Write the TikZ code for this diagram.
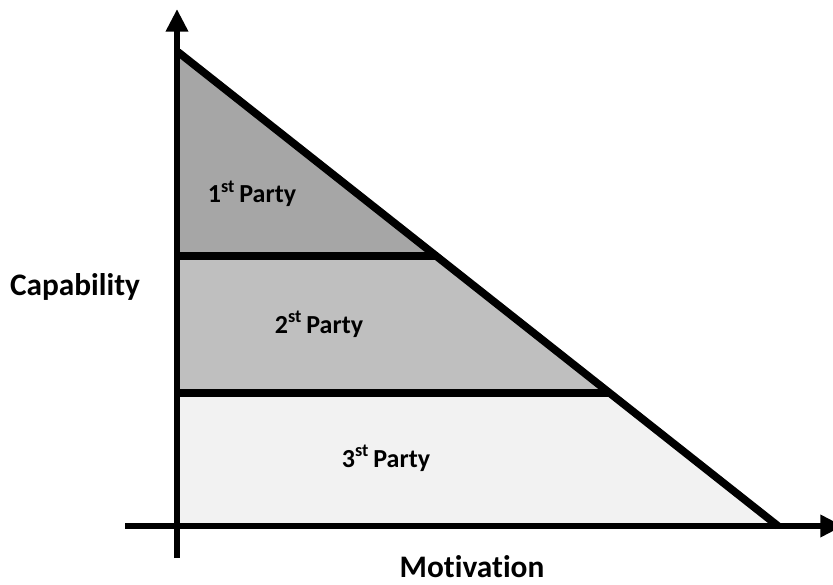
\documentclass[tikz,border=0pt]{standalone}
\usepackage{fontspec}
\setmainfont{Carlito}[Ligatures={NoCommon}]
\definecolor{firstgray}{RGB}{166, 166, 166}
\definecolor{secondgray}{RGB}{191, 191, 191}
\definecolor{thirdgray}{RGB}{242, 242, 242}
\usetikzlibrary{arrows.meta, calc}

\begin{document}
\begin{tikzpicture}[x=0.75pt, y=-0.75pt,
    axisline/.style={line width=5.2pt, -{Triangle[length=17pt, width=16pt]}},
    bandedge/.style={line width=5.8pt},
    partylbl/.style={font=\bfseries\fontsize{19.5}{22}\selectfont, anchor=base},
    axislbl/.style={font=\bfseries\fontsize{23.5}{26}\selectfont, anchor=base, inner sep=0pt}]
    \useasboundingbox (0,0) rectangle (833,585);
    % corners of the bands
    \coordinate (apex) at (178,52);
    \coordinate (foot) at (778,526);
    \coordinate (a1) at (178,256);
    \coordinate (b1) at (438,256);
    \coordinate (a2) at (178,393);
    \coordinate (b2) at (610,393);
    \coordinate (a3) at (178,526);
    % bands
    \fill[firstgray] (apex) -- (b1) -- (a1) -- cycle;
    \fill[secondgray] (a1) -- (b1) -- (b2) -- (a2) -- cycle;
    \fill[thirdgray] (a2) -- (b2) -- (foot) -- (a3) -- cycle;
    \draw[bandedge] (a1) -- (b1);
    \draw[bandedge] (a2) -- (b2);
    \draw[bandedge] (apex) -- (foot);
    % axes
    \coordinate (ybot) at (177,558);
    \coordinate (ytop) at (177,9);
    \coordinate (xleft) at (125,526);
    \coordinate (xright) at (843,526);
    \draw[axisline] (ybot) -- (ytop);
    \draw[axisline] (xleft) -- (xright);
    % labels
    \foreach \i/\x/\y in {1/252/203, 2/319/333, 3/386/467} {
        \node[partylbl] (party\i) at (\x,\y) {\i\textsuperscript{st}\,Party};
    }
    \node[axislbl] (capability) at (75,295) {Capability};
    \node[axislbl] (motivation) at (472,577) {Motivation};
\end{tikzpicture}
\end{document}
